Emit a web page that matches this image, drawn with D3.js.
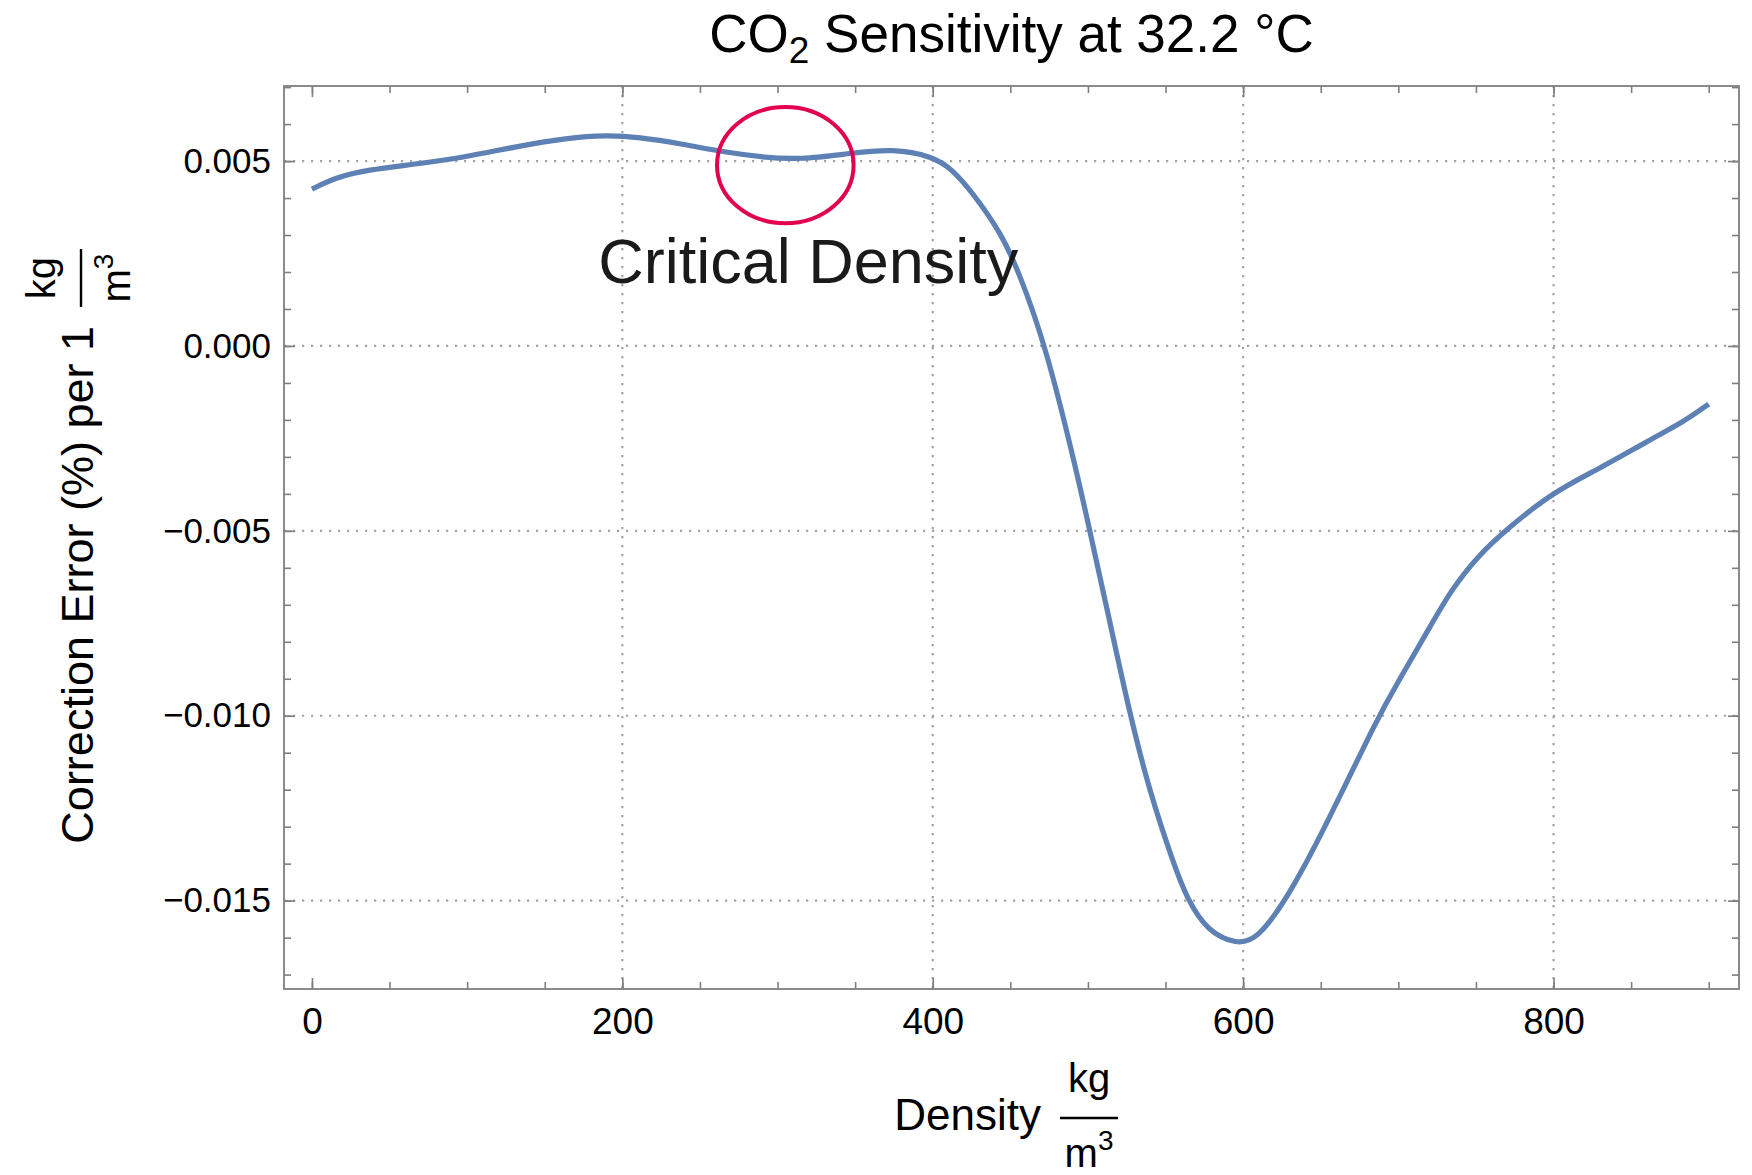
<!DOCTYPE html>
<html>
<head>
<meta charset="utf-8">
<title>CO2 Sensitivity at 32.2 °C</title>
<script src="https://cdnjs.cloudflare.com/ajax/libs/d3/7.8.5/d3.min.js"></script>
<style>
	body { margin: 0; background: #fff; }
	text { font-family: "Liberation Sans", Arial, Helvetica, sans-serif; }
</style>
</head>
<body>
<div id="chart"></div>
<script>
// density (kg/m3)
var density = [0, 15, 35, 70, 100, 130, 165, 190, 210, 240, 262, 290, 315, 345, 375,
	400, 412, 426, 444, 455, 473, 494, 501, 512, 527, 540, 555, 564, 577, 596,
	609, 628, 652, 686, 701, 719, 734, 751, 770, 800, 830, 862, 884, 900];
// correction error (%) per 1 kg/m3
var corrError = [0.00424, 0.00455, 0.00476, 0.00493, 0.00512, 0.00538, 0.00563, 0.0057, 0.00565, 0.00545, 0.00527, 0.0051, 0.00504, 0.0052, 0.00534,
	0.00512, 0.0048, 0.00413, 0.00305, 0.00205, 0.0, -0.00362, -0.00497, -0.00705, -0.00997, -0.01209, -0.01398, -0.01497, -0.01583, -0.01619,
	-0.01605, -0.01497, -0.0131, -0.0101, -0.0090, -0.0077, -0.0066, -0.00569, -0.00495, -0.00394, -0.00331, -0.00254, -0.00205, -0.00157];

var xTicks = [0, 200, 400, 600, 800];
var yTicks = [-0.015, -0.010, -0.005, 0.000, 0.005];
var xMinor = d3.range(0, 901, 50);
var yMinor = d3.range(-17, 8).map(function(d){ return d / 1000; });

// annotation, in data units
var noteCircle = { x: 305, y: 0.00489, rx: 44, ry: 0.00157 };
var noteText = { x: 184.5, y: 0.0017, label: "Critical Density" };

function init(){
	var W = 1752, H = 1175;
	var margin = { top: 86, right: 13, bottom: 186, left: 284 };
	var w = W - margin.left - margin.right;
	var h = H - margin.top - margin.bottom;

	var data = density.map(function(d, i){ return { x: d, y: corrError[i] }; });

	var xScale = d3.scaleLinear().domain([-18, 919.5]).range([0, w]);
	var yScale = d3.scaleLinear().domain([-0.01739, 0.00703]).range([h, 0]);

	var svg = d3.select("#chart")
				.append("svg")
				.attr("width", W)
				.attr("height", H);

	var g = svg.append("g")
				.attr("transform", "translate(" + margin.left + "," + margin.top + ")");

	//dotted grid at the major ticks (none at x = 0, like the original)
	var gridStyle = function(sel){
		sel.attr("stroke", "#a3a3a3")
			.attr("stroke-width", 2.2)
			.attr("stroke-dasharray", "2.2,6.8");
	};
	g.selectAll(".vgrid")
		.data(xTicks.filter(function(d){ return d !== 0; }))
		.enter()
		.append("line")
		.attr("x1", function(d){ return xScale(d); })
		.attr("x2", function(d){ return xScale(d); })
		.attr("y1", 0)
		.attr("y2", h)
		.call(gridStyle);
	g.selectAll(".hgrid")
		.data(yTicks)
		.enter()
		.append("line")
		.attr("x1", 0)
		.attr("x2", w)
		.attr("y1", function(d){ return yScale(d); })
		.attr("y2", function(d){ return yScale(d); })
		.call(gridStyle);

	//axes: minor ticks first, then majors with labels; ticks point inward
	var fmtY = d3.format(".3f");
	var axisStyle = function(sel, size){
		sel.select(".domain").remove();
		sel.selectAll(".tick line").attr("stroke", "#7f7f7f").attr("stroke-width", 1.6);
		sel.selectAll("text").attr("fill", "#000").style("font-size", size + "px");
	};

	g.append("g").attr("transform", "translate(0," + h + ")")
		.call(d3.axisBottom(xScale).tickValues(xMinor).tickSize(-7).tickFormat(""))
		.call(axisStyle, 37);
	g.append("g").attr("transform", "translate(0," + h + ")")
		.call(d3.axisBottom(xScale).tickValues(xTicks).tickSize(-11).tickPadding(18.5).tickFormat(d3.format("d")))
		.call(axisStyle, 37);
	g.append("g")
		.call(d3.axisTop(xScale).tickValues(xMinor).tickSize(-7).tickFormat(""))
		.call(axisStyle, 37);
	g.append("g")
		.call(d3.axisTop(xScale).tickValues(xTicks).tickSize(-11).tickFormat(""))
		.call(axisStyle, 37);

	g.append("g")
		.call(d3.axisLeft(yScale).tickValues(yMinor).tickSize(-7).tickFormat(""))
		.call(axisStyle, 35);
	g.append("g")
		.call(d3.axisLeft(yScale).tickValues(yTicks).tickSize(-11).tickPadding(13).tickFormat(fmtY))
		.call(axisStyle, 35);
	g.append("g").attr("transform", "translate(" + w + ",0)")
		.call(d3.axisRight(yScale).tickValues(yMinor).tickSize(-7).tickFormat(""))
		.call(axisStyle, 35);
	g.append("g").attr("transform", "translate(" + w + ",0)")
		.call(d3.axisRight(yScale).tickValues(yTicks).tickSize(-11).tickFormat(""))
		.call(axisStyle, 35);

	//frame
	g.append("rect")
		.attr("width", w)
		.attr("height", h)
		.attr("fill", "none")
		.attr("stroke", "#7f7f7f")
		.attr("stroke-width", 1.8);

	//the curve (basis spline to smooth out reading noise)
	var line = d3.line()
				.x(function(d){ return xScale(d.x); })
				.y(function(d){ return yScale(d.y); })
				.curve(d3.curveBasis);

	g.append("path")
		.datum(data)
		.attr("d", line)
		.attr("fill", "none")
		.attr("stroke", "#5e81b5")
		.attr("stroke-width", 5.2)
		.attr("stroke-linejoin", "round");

	//critical density note
	g.append("ellipse")
		.attr("cx", xScale(noteCircle.x))
		.attr("cy", yScale(noteCircle.y))
		.attr("rx", xScale(noteCircle.rx) - xScale(0))
		.attr("ry", yScale(0) - yScale(noteCircle.ry))
		.attr("fill", "none")
		.attr("stroke", "#e2004f")
		.attr("stroke-width", 4);

	g.append("text")
		.attr("x", xScale(noteText.x))
		.attr("y", yScale(noteText.y))
		.attr("fill", "#1a1a1a")
		.style("font-size", "63px")
		.text(noteText.label);

	//title with subscript
	var title = svg.append("text")
				.attr("x", margin.left + w / 2)
				.attr("y", 52)
				.attr("text-anchor", "middle")
				.style("font-size", "53px");
	title.append("tspan").text("CO");
	title.append("tspan").attr("dy", 11).style("font-size", "37px").text("2");
	title.append("tspan").attr("dy", -11).text(" Sensitivity at 32.2 °C");

	//axis labels with a kg / m^3 fraction
	function unitLabel(sel, main, size){
		sel.append("text")
			.attr("x", -19)
			.attr("y", 12)
			.attr("text-anchor", "end")
			.style("font-size", size + "px")
			.text(main);
		sel.append("line")
			.attr("x1", 0).attr("x2", 58)
			.attr("stroke", "#000")
			.attr("stroke-width", 2.4);
		sel.append("text")
			.attr("x", 29)
			.attr("y", -26)
			.attr("text-anchor", "middle")
			.style("font-size", "40px")
			.text("kg");
		var den = sel.append("text")
			.attr("x", 29)
			.attr("y", 49)
			.attr("text-anchor", "middle")
			.style("font-size", "40px");
		den.append("tspan").text("m");
		den.append("tspan").attr("dy", -17).style("font-size", "28px").text("3");
	}

	svg.append("g")
		.attr("transform", "translate(1060,1118)")
		.call(unitLabel, "Density", 44);

	svg.append("g")
		.attr("transform", "translate(81,307) rotate(-90)")
		.call(unitLabel, "Correction Error (%) per 1", 45);
}

window.onload = init;
</script>
</body>
</html>
